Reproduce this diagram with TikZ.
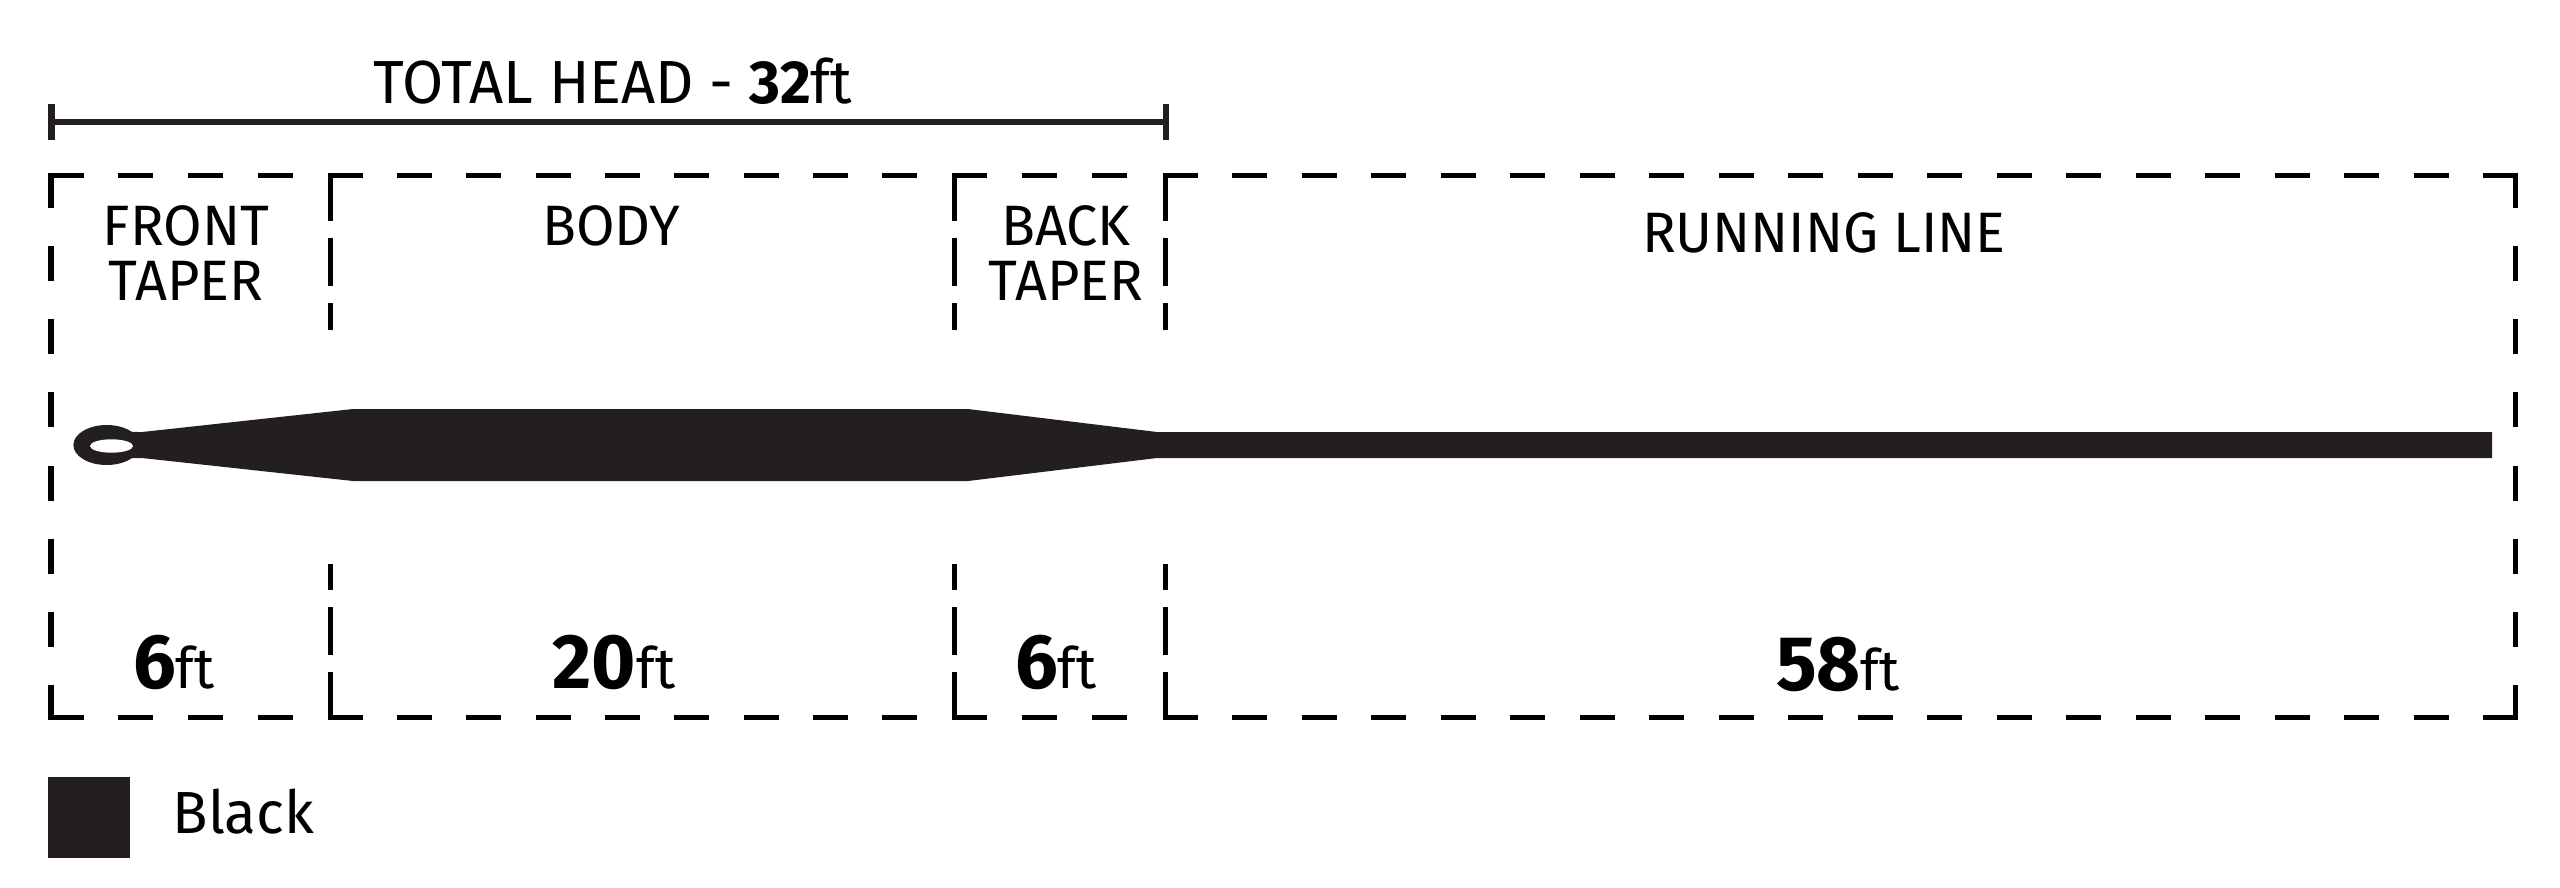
\documentclass[tikz,border=0pt]{standalone}
\usepackage{fontspec}
\setmainfont{Fira Sans}[FakeStretch=0.98]
\definecolor{ink}{HTML}{231F20}
\begin{document}
\begin{tikzpicture}[x=0.01cm,y=-0.01cm,
  box/.style={draw=black,line width=0.5mm,line cap=rect},
  dfront/.style={box,dash pattern=on 3mm off 3.975mm},
  dbody/.style={box,dash pattern=on 3mm off 3.933mm},
  dback/.style={box,dash pattern=on 3mm off 4.033mm},
  drun/.style={box,dash pattern=on 3mm off 3.947mm},
  dedge/.style={box,dash pattern=on 3mm off 4.321mm},
  ddiv/.style={box,dash pattern=on 4.3mm off 2.2mm},
  lbl/.style={font=\fontsize{16.2pt}{19pt}\selectfont,text=black,inner sep=0pt,anchor=base,align=center},
  num/.style={font=\fontsize{22pt}{26pt}\selectfont\bfseries,text=black,inner sep=0pt,anchor=base},
]
\useasboundingbox (0,0) rectangle (2560,887);

% coordinates
\coordinate (tl) at (51,175);
\coordinate (bl) at (51,717.5);
\coordinate (t1) at (330,175);
\coordinate (b1) at (330,717.5);
\coordinate (t2) at (954,175);
\coordinate (b2) at (954,717.5);
\coordinate (t3) at (1165,175);
\coordinate (b3) at (1165,717.5);
\coordinate (tr) at (2515,175);
\coordinate (br) at (2515,717.5);

% top and bottom dashed lines
\draw[dfront] (tl) -- (t1);
\draw[dfront] (bl) -- (b1);
\draw[dbody] (t1) -- (t2);
\draw[dbody] (b1) -- (b2);
\draw[dback] (t2) -- (t3);
\draw[dback] (b2) -- (b3);
\draw[drun] (t3) -- (tr);
\draw[drun] (b3) -- (br);

% outer edges
\draw[dedge] (tl) -- (bl);
\draw[dedge] (tr) -- (br);

% dividers
\foreach \xx in {330,954,1165}{
  \draw[ddiv] (\xx,175) -- (\xx,327);
  \draw[ddiv] (\xx,717.5) -- (\xx,566);
}

% total head bar
\coordinate (ha) at (51.5,121.7);
\coordinate (hb) at (1166,121.7);
\draw[line width=0.6mm,ink] (ha) -- (hb);
\draw[line width=0.6mm,ink] (51.5,104) -- (51.5,140);
\draw[line width=0.6mm,ink] (1166,104) -- (1166,140);
\node[lbl,font=\fontsize{17.3pt}{20pt}\selectfont] (title) at (613,103) {TOTAL HEAD - {\bfseries 32}ft};

% section labels
\node[lbl] (ft1) at (186,245) {FRONT};
\node[lbl] (ft2) at (186,300) {TAPER};
\node[lbl] (body) at (611,245) {BODY};
\node[lbl] (bt1) at (1066,245) {BACK};
\node[lbl] (bt2) at (1066,300) {TAPER};
\node[lbl] (run) at (1824,252) {RUNNING LINE};

% lengths
\node[num] (n1) at (174,688) {6{\fontsize{16.2pt}{19pt}\selectfont\mdseries ft}};
\node[num] (n2) at (614,688) {20{\fontsize{16.2pt}{19pt}\selectfont\mdseries ft}};
\node[num] (n3) at (1056,688) {6{\fontsize{16.2pt}{19pt}\selectfont\mdseries ft}};
\node[num] (n4) at (1838,690) {58{\fontsize{16.2pt}{19pt}\selectfont\mdseries ft}};

% fly line
\fill[ink] (106.7,445) ellipse [x radius=33.3, y radius=20];
\fill[ink] (128,431.5) .. controls (134,432) .. (142,432)
  -- (353,409) -- (968,409) -- (1157,432) -- (2492,432) -- (2492,458)
  -- (1157,458) -- (968,481) -- (353,481) -- (142,458)
  .. controls (134,458) .. (128,458.5) -- cycle;
\fill[white] (111.5,446) ellipse [x radius=21.5, y radius=6.7];

% legend
\fill[ink] (48,777) rectangle (130,858);
\node[lbl,anchor=base west,font=\fontsize{16.9pt}{20pt}\selectfont] (leg) at (172,833) {Black};
\end{tikzpicture}
\end{document}
